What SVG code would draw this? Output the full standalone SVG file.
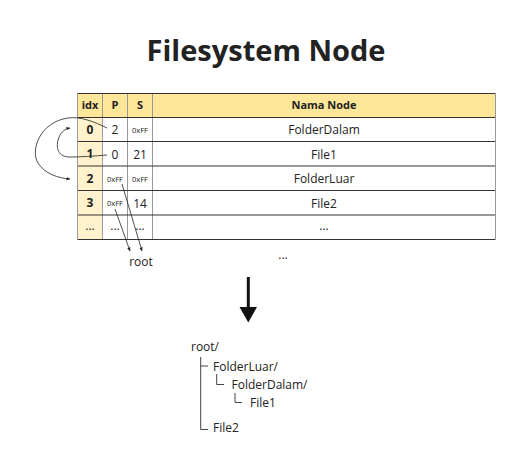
<svg xmlns="http://www.w3.org/2000/svg" width="509" height="450" viewBox="0 0 509 450">
<style>
text{font-family:"Open Sans","Liberation Sans",sans-serif;fill:#222}
.t{font-size:29px;font-weight:bold;text-anchor:middle}
.h{font-size:11px;font-weight:bold;text-anchor:middle}
.i{font-size:12px;font-weight:bold;text-anchor:middle}
.c{font-size:12px;text-anchor:middle}
.s{font-size:7.5px;text-anchor:middle}
.tr{font-size:12px}
.hl{stroke:#333;stroke-width:1}
.vl{stroke:#999;stroke-width:1}
.ln{fill:none;stroke:#222;stroke-width:0.8}
.tree{fill:none;stroke:#444;stroke-width:1}
</style>
<defs>
<marker id="ah" viewBox="0 0 10 10" refX="9" refY="5" markerWidth="5" markerHeight="5" orient="auto">
<path d="M0,1 L10,5 L0,9 z" fill="#222"/>
</marker>
</defs>
<rect width="509" height="450" fill="#fff"/>
<text class="t" x="266" y="61">Filesystem Node</text>
<g id="table">
<rect x="77.5" y="93.5" width="418" height="24" fill="#FFE699"/>
<rect x="77.5" y="117.5" width="25" height="122" fill="#FFF2CC"/>
<line class="vl" x1="102.5" y1="93.5" x2="102.5" y2="239.5"/>
<line class="vl" x1="127.5" y1="93.5" x2="127.5" y2="239.5"/>
<line class="vl" x1="152.5" y1="93.5" x2="152.5" y2="239.5"/>
<line class="hl" x1="77.5" y1="93.5" x2="495.5" y2="93.5"/>
<line class="hl" x1="77.5" y1="117.5" x2="495.5" y2="117.5"/>
<line class="hl" x1="77.5" y1="141.5" x2="495.5" y2="141.5"/>
<line class="hl" x1="77.5" y1="166" x2="495.5" y2="166"/>
<line class="hl" x1="77.5" y1="190.5" x2="495.5" y2="190.5"/>
<line class="hl" x1="77.5" y1="215" x2="495.5" y2="215"/>
<line class="hl" x1="77.5" y1="239.5" x2="495.5" y2="239.5"/>
<line class="vl" x1="77.5" y1="93.5" x2="77.5" y2="239.5"/>
<line class="vl" x1="495.5" y1="93.5" x2="495.5" y2="239.5"/>
<text class="h" x="90" y="109">idx</text>
<text class="h" x="115" y="109">P</text>
<text class="h" x="140" y="109">S</text>
<text class="h" x="324" y="109">Nama Node</text>
<text class="i" x="90" y="134">0</text>
<text class="c" x="115" y="134">2</text>
<text class="s" x="140" y="133">0xFF</text>
<text class="c" x="324" y="134">FolderDalam</text>
<text class="i" x="90" y="158">1</text>
<text class="c" x="115" y="158.5">0</text>
<text class="c" x="140" y="158.5">21</text>
<text class="c" x="324" y="158.5">File1</text>
<text class="i" x="90" y="183">2</text>
<text class="s" x="115" y="181.5">0xFF</text>
<text class="s" x="140" y="181.5">0xFF</text>
<text class="c" x="324" y="183">FolderLuar</text>
<text class="i" x="90" y="207">3</text>
<text class="s" x="115" y="206">0xFF</text>
<text class="c" x="140" y="207.5">14</text>
<text class="c" x="324" y="207.5">File2</text>
<text class="c" x="90" y="230">...</text>
<text class="c" x="115" y="230">...</text>
<text class="c" x="140" y="230">...</text>
<text class="c" x="324" y="230">...</text>
</g>
<g id="connectors">
<path class="ln" d="M107,128 C95,122 80,116 68,118 C40,122 30,150 38,163 C45,174 58,178 70,179" marker-end="url(#ah)"/>
<path class="ln" d="M107,155 C95,156 80,157 70,157 C58,157 56,148 58,140 C60,133 64,129 70,128" marker-end="url(#ah)"/>
<path class="ln" d="M122,184 L142,251" marker-end="url(#ah)"/>
<path class="ln" d="M115,209 L130,251" marker-end="url(#ah)"/>
</g>
<g id="root-label">
<text class="c" x="141" y="265.5">root</text>
</g>
<text class="c" x="283" y="259">...</text>
<g id="big-arrow">
<line x1="248.3" y1="277" x2="248.3" y2="308" stroke="#111" stroke-width="3"/>
<path d="M239.5,307 L257,307 L248.3,322.5 z" fill="#111"/>
</g>
<g id="tree">
<text class="tr" x="191" y="350.5">root/</text>
<path class="tree" d="M200.7,357 V429.5 H208 M200.7,366 H208"/>
<text class="tr" x="213" y="370.5">FolderLuar/</text>
<path class="tree" d="M216.7,374 V384.5 H224"/>
<text class="tr" x="231.5" y="388.5">FolderDalam/</text>
<path class="tree" d="M235,393 V402.5 H242"/>
<text class="tr" x="250" y="406.5">File1</text>
<text class="tr" x="213" y="431.5">File2</text>
</g>
</svg>
